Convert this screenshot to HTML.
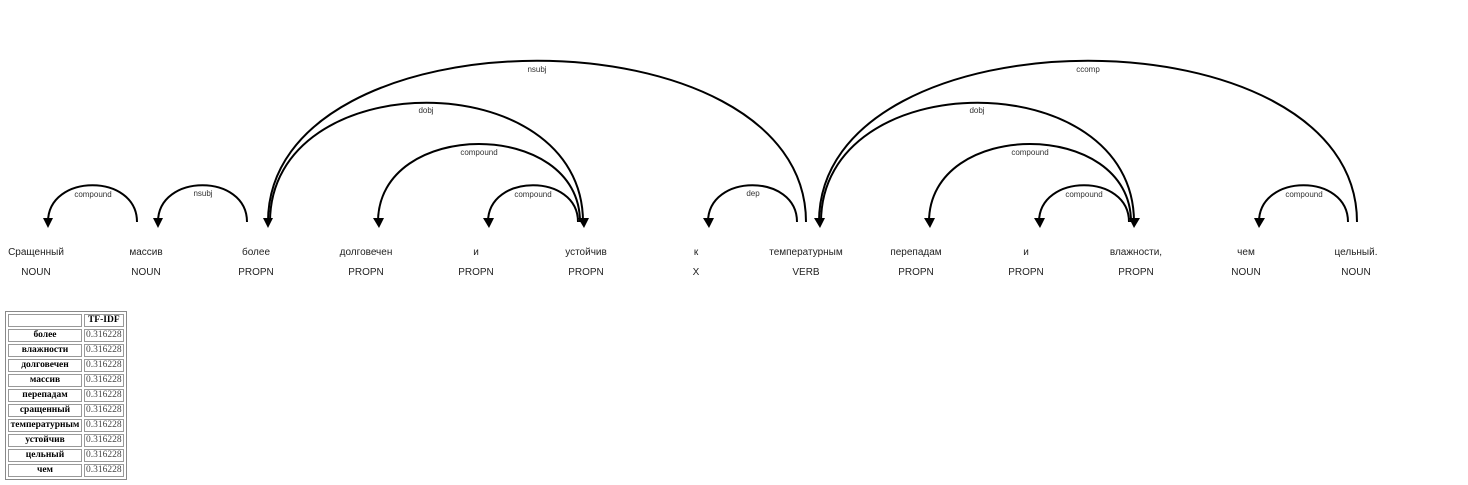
<!DOCTYPE html>
<html><head><meta charset="utf-8"><style>
body{margin:0;background:#fff;width:1468px;height:485px;overflow:hidden;position:relative}
svg{position:absolute;left:0;top:0}
table{position:absolute;left:5px;top:311px;border:1px solid #888;border-collapse:separate;border-spacing:2px;font-family:"Liberation Serif","DejaVu Serif",serif;font-size:9.5px}
td,th{border:1px solid #999;padding:0 1px;height:11px;line-height:11px}
th{font-weight:bold;text-align:center}
td.v{color:#444}
</style></head><body>
<svg width="1468" height="300" xmlns="http://www.w3.org/2000/svg" font-family="Liberation Sans, DejaVu Sans, sans-serif">
<g fill="none" stroke="#000" stroke-width="2">
<path d="M48,222 C48,173 137,173 137,222"/>
<path d="M158,222 C158,173 247,173 247,222"/>
<path d="M268,222 C268,7 806,7 806,222"/>
<path d="M270,222 C270,63 583,63 583,222"/>
<path d="M378,222 C378,118 580,118 580,222"/>
<path d="M488,222 C488,173 578,173 578,222"/>
<path d="M708,222 C708,173 797,173 797,222"/>
<path d="M819,222 C819,7 1357,7 1357,222"/>
<path d="M821,222 C821,63 1134,63 1134,222"/>
<path d="M929,222 C929,118 1131,118 1131,222"/>
<path d="M1039,222 C1039,173 1129,173 1129,222"/>
<path d="M1259,222 C1259,173 1348,173 1348,222"/>
</g>
<g fill="#000">
<path d="M43,218 L53,218 L48,228Z"/>
<path d="M153,218 L163,218 L158,228Z"/>
<path d="M263,218 L273,218 L268,228Z"/>
<path d="M578,218 L589,218 L584,228Z"/>
<path d="M373,218 L384,218 L379,228Z"/>
<path d="M483,218 L494,218 L489,228Z"/>
<path d="M703,218 L714,218 L709,228Z"/>
<path d="M814,218 L825,218 L820,228Z"/>
<path d="M1129,218 L1140,218 L1134,228Z"/>
<path d="M924,218 L935,218 L930,228Z"/>
<path d="M1034,218 L1045,218 L1040,228Z"/>
<path d="M1254,218 L1265,218 L1259,228Z"/>
</g>
<g font-size="8" fill="#333" text-anchor="middle">
<text x="93" y="197">compound</text>
<text x="203" y="196">nsubj</text>
<text x="537" y="72">nsubj</text>
<text x="426" y="113">dobj</text>
<text x="479" y="155">compound</text>
<text x="533" y="197">compound</text>
<text x="753" y="196">dep</text>
<text x="1088" y="72">ccomp</text>
<text x="977" y="113">dobj</text>
<text x="1030" y="155">compound</text>
<text x="1084" y="197">compound</text>
<text x="1304" y="197">compound</text>
</g>
<g font-size="10" fill="#222" text-anchor="middle">
<text x="36" y="255">Сращенный</text><text x="36" y="275">NOUN</text>
<text x="146" y="255">массив</text><text x="146" y="275">NOUN</text>
<text x="256" y="255">более</text><text x="256" y="275">PROPN</text>
<text x="366" y="255">долговечен</text><text x="366" y="275">PROPN</text>
<text x="476" y="255">и</text><text x="476" y="275">PROPN</text>
<text x="586" y="255">устойчив</text><text x="586" y="275">PROPN</text>
<text x="696" y="255">к</text><text x="696" y="275">X</text>
<text x="806" y="255">температурным</text><text x="806" y="275">VERB</text>
<text x="916" y="255">перепадам</text><text x="916" y="275">PROPN</text>
<text x="1026" y="255">и</text><text x="1026" y="275">PROPN</text>
<text x="1136" y="255">влажности,</text><text x="1136" y="275">PROPN</text>
<text x="1246" y="255">чем</text><text x="1246" y="275">NOUN</text>
<text x="1356" y="255">цельный.</text><text x="1356" y="275">NOUN</text>
</g>
</svg>
<table>
<tr><th style="width:70px"></th><th>TF-IDF</th></tr>
<tr><th>более</th><td class="v">0.316228</td></tr>
<tr><th>влажности</th><td class="v">0.316228</td></tr>
<tr><th>долговечен</th><td class="v">0.316228</td></tr>
<tr><th>массив</th><td class="v">0.316228</td></tr>
<tr><th>перепадам</th><td class="v">0.316228</td></tr>
<tr><th>сращенный</th><td class="v">0.316228</td></tr>
<tr><th>температурным</th><td class="v">0.316228</td></tr>
<tr><th>устойчив</th><td class="v">0.316228</td></tr>
<tr><th>цельный</th><td class="v">0.316228</td></tr>
<tr><th>чем</th><td class="v">0.316228</td></tr>
</table>
</body></html>
